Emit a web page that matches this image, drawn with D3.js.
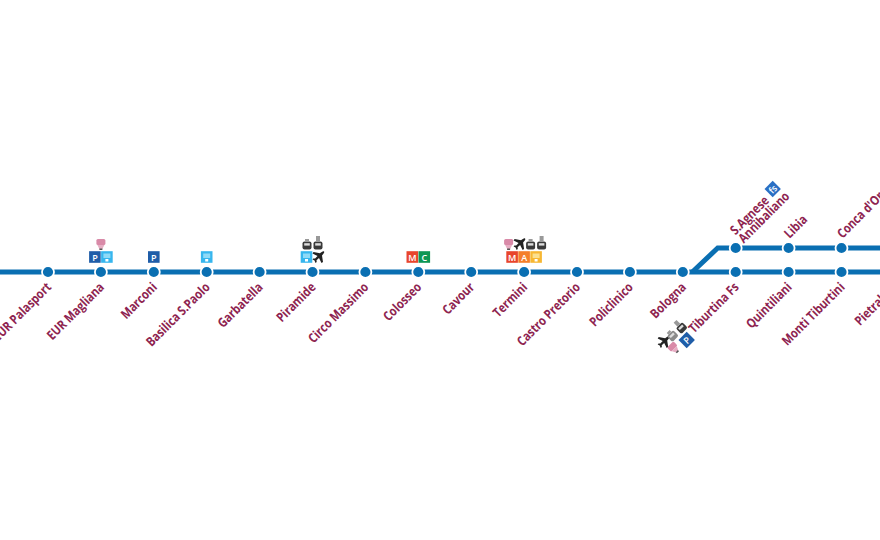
<!DOCTYPE html>
<html>
<head>
<meta charset="utf-8">
<script src="https://cdn.jsdelivr.net/npm/d3@7"></script>
<style>
  body { margin: 0; background: #fff; }
  text { font-family: "Open Sans", sans-serif; }
</style>
</head>
<body>
<script>
// stations along the main line, in order
const mainStations = ["EUR Palasport", "EUR Magliana", "Marconi", "Basilica S.Paolo", "Garbatella",
  "Piramide", "Circo Massimo", "Colosseo", "Cavour", "Termini", "Castro Pretorio", "Policlinico",
  "Bologna", "Tiburtina Fs", "Quintiliani", "Monti Tiburtini", "Pietralata"];

// stations on the branch, with the index they sit at on the same axis
const branchStations = [["S.Agnese", "Annibaliano"], ["Libia"], ["Conca d'Oro"]];
const branchIndex = [13, 14, 15];

// interchange icons over the line: lower row, upper row
const iconStations = ["EUR Magliana", "Marconi", "Basilica S.Paolo", "Piramide", "Colosseo", "Termini"];
const iconsLower = [["P", "lift"], ["P"], ["lift"], ["lift", "plane"], ["M", "C"], ["M", "A", "liftY"]];
const iconsUpper = [["tram"], [], [], ["train", "rail"], [], ["tram", "plane", "train", "rail"]];

const width = 880, height = 540;
const lineColor = "#0a6fb2", labelColor = "#8e2450";

const svg = d3.select("body").append("svg")
  .attr("width", width)
  .attr("height", height);

const x = d3.scaleLinear().domain([0, 16]).range([48, 894.4]);
const y = d3.scalePoint().domain(["branch", "main"]).range([248, 272]);

// tracks
const track = d3.line().x(d => x(d[0])).y(d => y(d[1]));
svg.append("path")
  .attr("d", track([[-1, "main"], [17, "main"]]))
  .attr("fill", "none").attr("stroke", lineColor).attr("stroke-width", 5);
svg.append("path")
  .attr("d", track([[12.18, "main"], [12.66, "branch"], [17, "branch"]]))
  .attr("fill", "none").attr("stroke", lineColor).attr("stroke-width", 5);

function addStop(cx, cy) {
  svg.append("circle")
    .attr("cx", cx).attr("cy", cy).attr("r", 6)
    .attr("fill", lineColor).attr("stroke", "#fff").attr("stroke-width", 1.8);
}

mainStations.forEach((s, i) => addStop(x(i), y("main")));
branchIndex.forEach(i => addStop(x(i), y("branch")));

// labels, Open Sans squeezed sideways to get near the condensed face of the map
mainStations.forEach((s, i) => {
  svg.append("text")
    .attr("transform", `translate(${x(i) + 4},${y("main") + 16}) rotate(-45) scale(0.84,1)`)
    .attr("text-anchor", "end")
    .attr("fill", labelColor)
    .attr("font-size", 13)
    .attr("font-weight", 700)
    .text(s);
});

branchStations.forEach((lines, k) => {
  // the two line label sits a bit further along the track
  const shift = lines.length > 1 ? 3.5 : 0;
  const t = svg.append("g")
    .attr("transform", `translate(${x(branchIndex[k]) + 1 + shift},${y("branch") - 9 + shift / 3}) rotate(-45) scale(0.84,1)`);
  lines.forEach((l, j) => {
    t.append("text")
      .attr("y", (j - lines.length + 1) * 11.5 + (lines.length > 1 ? 5 : 0))
      .attr("fill", labelColor)
      .attr("font-size", 13)
      .attr("font-weight", 700)
      .text(l);
  });
});

// icons, each drawn in a 12x12 box centred on 0,0
const tileColors = { P: "#1f5da8", lift: "#37b6ee", liftY: "#f7b733", M: "#e8452c", A: "#f47f2a", C: "#0d9654" };

function drawIcon(g, type, faded) {
  if (type === "P" || type === "M" || type === "A" || type === "C" || type === "FS") {
    g.append("rect").attr("x", -5.8).attr("y", -5.8).attr("width", 11.6).attr("height", 11.6)
      .attr("fill", type === "FS" ? "#2a6fc4" : tileColors[type]);
    g.append("text").attr("text-anchor", "middle").attr("y", 3.6)
      .attr("fill", "#fff").attr("font-size", 9).attr("font-weight", 600)
      .text(type === "FS" ? "fs" : type);
  } else if (type === "lift" || type === "liftY") {
    g.append("rect").attr("x", -5.8).attr("y", -5.8).attr("width", 11.6).attr("height", 11.6)
      .attr("fill", tileColors[type]);
    g.append("rect").attr("x", -3.5).attr("y", -3.5).attr("width", 7).attr("height", 4.5)
      .attr("fill", type === "lift" ? "#8fdaf7" : "#fbe08f");
    g.append("rect").attr("x", -1.5).attr("y", 2).attr("width", 3).attr("height", 2.5).attr("fill", "#fff");
  } else if (type === "plane") {
    g.append("path")
      .attr("d", "M5.5,-5.5 C6.3,-4.7 5,-3 3.5,-1.5 L4.5,5 L3,6 L0.5,1 L-2,3.2 L-1.8,5 L-3,6 L-4,3.5 L-6,2.6 L-5.2,1.6 L-3.4,1.6 L-1,-1 L-6,-3.5 L-5,-5 L1.5,-3.7 C3,-5 4.7,-6.3 5.5,-5.5 Z")
      .attr("fill", "#222");
  } else if (type === "tram") {
    g.append("rect").attr("x", -4.5).attr("y", -5).attr("width", 9).attr("height", 6).attr("rx", 1.5).attr("fill", "#d98aa8");
    g.append("path").attr("d", "M-3.5,1 L-1.5,5 L1.5,5 L3.5,1 Z").attr("fill", "#e6adc3");
    g.append("rect").attr("x", -1.5).attr("y", 4.5).attr("width", 3).attr("height", 1.5).attr("fill", "#555");
  } else {
    // train and rail share the same body, rail has the pantograph on top
    const body = faded ? "#8a8a8a" : "#3a3a3a";
    g.append("rect").attr("x", -4.5).attr("y", -2.5).attr("width", 9).attr("height", 8).attr("rx", 2).attr("fill", body);
    g.append("rect").attr("x", -2.8).attr("y", -0.8).attr("width", 5.6).attr("height", 2.4).attr("fill", "#ddd");
    g.append("rect").attr("x", -2).attr("y", type === "rail" ? -8 : -5).attr("width", 4).attr("height", type === "rail" ? 5.5 : 2.5).attr("fill", "#999");
  }
}

function addIconRow(cx, cy, icons, step) {
  icons.forEach((type, k) => {
    const g = svg.append("g")
      .attr("transform", `translate(${cx + (k - (icons.length - 1) / 2) * step},${cy})`);
    drawIcon(g, type);
  });
}

iconStations.forEach((s, i) => {
  const cx = x(mainStations.indexOf(s));
  addIconRow(cx, y("main") - 15, iconsLower[i], 12);
  addIconRow(cx + (iconsUpper[i].length === 4 ? 1 : 0), y("main") - 28, iconsUpper[i], 11);
});

// Tiburtina icons follow the slant of the label
const tib = x(mainStations.indexOf("Tiburtina Fs"));
[["plane", -72, 70], ["train", -64, 63, true], ["rail", -55, 55], ["tram", -62, 76], ["P", -49, 68]].forEach(d => {
  const g = svg.append("g")
    .attr("transform", `translate(${tib + d[1]},${y("main") + d[2]}) rotate(${d[0] === "plane" ? 0 : -45})`);
  drawIcon(g, d[0], d[3]);
});

// Fs tile at the end of the S.Agnese label
const fs = svg.append("g")
  .attr("transform", `translate(${x(13) + 37},${y("branch") - 59}) rotate(-45)`);
drawIcon(fs, "FS");
</script>
</body>
</html>
